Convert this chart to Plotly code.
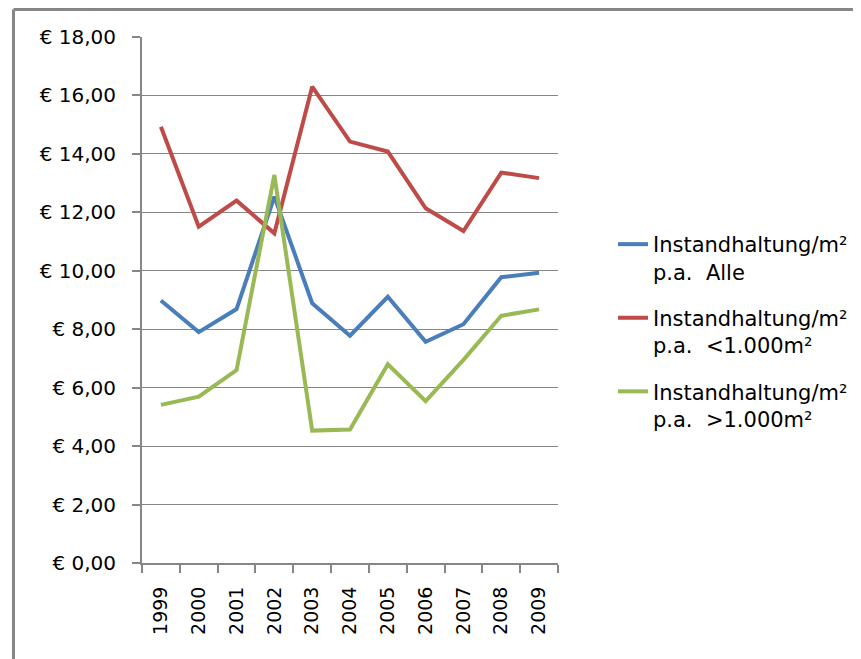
import plotly.graph_objects as go

years = ["1999", "2000", "2001", "2002", "2003", "2004", "2005", "2006", "2007", "2008", "2009"]
alle = [8.98, 7.90, 8.69, 12.54, 8.89, 7.78, 9.11, 7.57, 8.17, 9.78, 9.93]
klein = [14.93, 11.51, 12.40, 11.28, 16.30, 14.42, 14.08, 12.14, 11.36, 13.36, 13.17]
gross = [5.41, 5.69, 6.60, 13.28, 4.53, 4.57, 6.80, 5.54, 6.95, 8.46, 8.68]

names = ["Instandhaltung/m²<br>p.a.  Alle",
         "Instandhaltung/m²<br>p.a.  &lt;1.000m²",
         "Instandhaltung/m²<br>p.a.  &gt;1.000m²"]
colors = ["#4A7EBB", "#BE4B48", "#98B954"]

y_ticks = [0, 2, 4, 6, 8, 10, 12, 14, 16, 18]
y_labels = ["€ 0,00", "€ 2,00", "€ 4,00", "€ 6,00", "€ 8,00", "€ 10,00",
            "€ 12,00", "€ 14,00", "€ 16,00", "€ 18,00"]

font = "DejaVu Sans"
fig = go.Figure()
for i, (vals, name, col) in enumerate(zip([alle, klein, gross], names, colors)):
    fig.add_trace(go.Scatter(x=years, y=vals, mode="lines", name=name,
                             legendgroup=f"g{i}",
                             line=dict(color=col, width=4)))

OFF = 8  # page body margin
W, H = 861 - OFF, 659 - OFF
L, R, T, B = 142 - OFF, 558 - OFF, 37 - OFF, 563 - OFF
fig.update_layout(
    width=W, height=H,
    margin=dict(l=L, r=W - R, t=T, b=H - B, autoexpand=False),
    paper_bgcolor="white", plot_bgcolor="white",
    font=dict(family=font, size=20, color="black"),
    showlegend=True,
    legend=dict(x=(605 - L) / (R - L), y=(B - 216) / (B - T), xanchor="left", yanchor="top",
                font=dict(family=font, size=21, color="black"),
                valign="top", tracegroupgap=16, bgcolor="rgba(0,0,0,0)"),
    xaxis=dict(type="category", tickangle=-90, ticks="outside", ticklen=8,
               tickson="boundaries", tickcolor="#868686", tickwidth=2,
               showline=True, linecolor="#868686", linewidth=2,
               showgrid=False, ticklabelstandoff=14,
               tickfont=dict(family=font, size=19), range=[-0.5, 10.5]),
    yaxis=dict(range=[0, 18], tickvals=y_ticks, ticktext=y_labels,
               ticks="outside", ticklen=8, tickcolor="#868686", tickwidth=2,
               showline=True, linecolor="#868686", linewidth=2,
               showgrid=True, gridcolor="#868686", gridwidth=1,
               zeroline=False, ticklabelstandoff=12,
               tickfont=dict(family=font, size=20)),
)

# outer chart border (top and left visible)
bx = (13.5 - OFF - L) / (R - L)
by = (B - (9.5 - OFF)) / (B - T)
fig.add_shape(type="line", xref="paper", yref="paper", x0=bx, x1=2.0, y0=by, y1=by,
              line=dict(color="#868686", width=3))
fig.add_shape(type="line", xref="paper", yref="paper", x0=bx, x1=bx, y0=-0.5, y1=by,
              line=dict(color="#868686", width=3))

fig.write_html("out.html")
